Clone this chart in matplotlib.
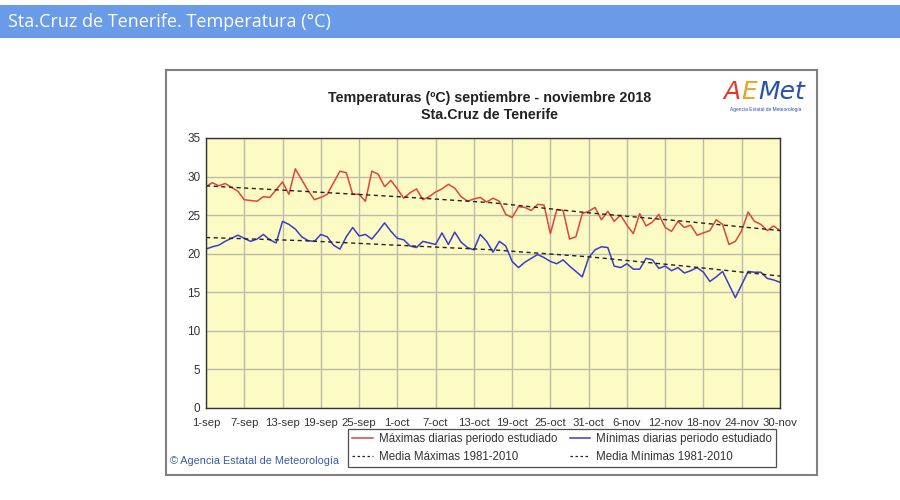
import numpy as np
import matplotlib
matplotlib.use('Agg')
import matplotlib.pyplot as plt
from matplotlib.patches import Rectangle
from matplotlib.lines import Line2D

plt.rcParams['font.family'] = ['Liberation Sans', 'DejaVu Sans']

# daily values, 1-sep .. 30-nov 2018
tmax = [28.7, 29.2, 28.8, 29.1, 28.6, 28.1, 27.0, 26.9, 26.8, 27.4,
        27.3, 28.3, 29.3, 27.7, 31.0, 29.6, 28.2, 27.0, 27.3, 27.7,
        29.2, 30.7, 30.5, 27.7, 27.7, 26.8, 30.7, 30.3, 28.7, 29.5,
        28.4, 27.2, 27.9, 28.4, 27.0, 27.4, 28.0, 28.4, 29.0, 28.5,
        27.4, 26.8, 27.1, 27.3, 26.7, 27.2, 26.8, 25.1, 24.7, 26.1,
        26.0, 25.6, 26.4, 26.3, 22.6, 25.7, 25.6, 21.9, 22.2, 25.2,
        25.5, 26.0, 24.4, 25.5, 24.2, 25.0, 23.7, 22.6, 25.2, 23.6,
        24.1, 25.1, 23.4, 22.9, 24.2, 23.4, 23.7, 22.4, 22.7, 23.0,
        24.4, 23.8, 21.2, 21.6, 23.0, 25.4, 24.2, 23.8, 23.0, 23.6, 23.0]
tmin = [20.6, 20.9, 21.1, 21.6, 22.0, 22.4, 22.0, 21.6, 21.9, 22.5,
        21.8, 21.4, 24.2, 23.8, 23.2, 22.2, 21.7, 21.6, 22.5, 22.2,
        21.1, 20.6, 22.2, 23.4, 22.3, 22.5, 21.9, 22.9, 24.0, 22.9,
        22.0, 21.8, 21.0, 20.8, 21.6, 21.4, 21.2, 22.7, 21.2, 22.8,
        21.5, 20.8, 20.5, 22.5, 21.6, 20.2, 21.6, 21.0, 19.0, 18.2,
        18.9, 19.4, 19.9, 19.5, 19.0, 18.7, 19.2, 18.4, 17.7, 17.0,
        19.5, 20.5, 20.9, 20.8, 18.4, 18.2, 18.7, 18.0, 18.0, 19.4,
        19.2, 18.1, 18.4, 17.8, 18.2, 17.5, 17.8, 18.2, 17.6, 16.4,
        17.0, 17.7, 16.0, 14.3, 16.0, 17.7, 17.6, 17.6, 16.8, 16.6, 16.3]

# 1981-2010 normals read at a few days
norm_days = [0, 15, 30, 45, 60, 75, 90]
norm_max = [28.8, 28.1, 27.4, 26.6, 25.3, 24.2, 23.0]
norm_min = [22.1, 21.7, 21.1, 20.5, 19.6, 18.4, 17.1]

tick_labels = ['1-sep', '7-sep', '13-sep', '19-sep', '25-sep', '1-oct', '7-oct',
               '13-oct', '19-oct', '25-oct', '31-oct', '6-nov', '12-nov',
               '18-nov', '24-nov', '30-nov']

W, H = 900, 500
fig = plt.figure(figsize=(9, 5), dpi=100)
fig.patch.set_facecolor('white')

# page header bar
fig.patches.append(Rectangle((0, 1 - 38 / H), 1, 33 / H, transform=fig.transFigure,
                             facecolor='#6a9be8', edgecolor='none', zorder=-2))
fig.text(8 / W, 1 - 22 / H, 'Sta.Cruz de Tenerife. Temperatura (°C)', color='white',
         fontsize=13, family=['Open Sans', 'DejaVu Sans'], va='center', ha='left')

# chart panel
fig.patches.append(Rectangle((166 / W, 1 - 475 / H), 651 / W, 405 / H, transform=fig.transFigure,
                             facecolor='white', edgecolor='#808080', linewidth=1.5, zorder=-2))

fig.text(490 / W, 1 - 98 / H, 'Temperaturas (ºC) septiembre - noviembre 2018',
         ha='center', va='center', fontsize=10.3, fontweight='bold', color='#222222')
fig.text(490 / W, 1 - 115 / H, 'Sta.Cruz de Tenerife',
         ha='center', va='center', fontsize=10.3, fontweight='bold', color='#222222')

# logo, letters placed one after another
renderer = fig.canvas.get_renderer()
x_px = 723
for part, col in [('A', '#e03a2a'), ('E', '#f0a020'), ('Met', '#2a4fb0')]:
    t = fig.text(x_px / W, 1 - 92 / H, part, color=col, fontsize=18, style='italic',
                 family=['DejaVu Sans'], va='center', ha='left')
    x_px += t.get_window_extent(renderer).width + 1
fig.text(766 / W, 1 - 110 / H, 'Agencia Estatal de Meteorología', color='#2a4fb0',
         fontsize=3.5, va='center', ha='center')

ax = fig.add_axes([206 / W, 1 - 408 / H, 574 / W, 270 / H])
ax.set_facecolor('#fdfbc4')
days = np.arange(len(tmax))
ax.plot(days, tmax, color='#e0443a', linewidth=1.1)
ax.plot(days, tmin, color='#3a3ccc', linewidth=1.1)
ax.plot(norm_days, norm_max, color='#222222', linestyle=(0, (3, 2.5)), linewidth=1.0)
ax.plot(norm_days, norm_min, color='#222222', linestyle=(0, (3, 2.5)), linewidth=1.0)

ax.set_xlim(0, 90)
ax.set_ylim(0, 35)
ax.set_xticks(np.arange(0, 91, 6))
ax.set_xticklabels(tick_labels)
ax.set_yticks(np.arange(0, 36, 5))
ax.tick_params(axis='x', length=0, labelsize=8.2, colors='#333333', pad=7)
ax.tick_params(axis='y', length=0, labelsize=8.5, colors='#333333', pad=4)
ax.grid(True, color='#bcbcac', linewidth=1.0)
ax.set_axisbelow(True)
for s in ax.spines.values():
    s.set_color('#333333')
    s.set_linewidth(1.0)

handles = [Line2D([], [], color='#e0443a', linewidth=1.1),
           Line2D([], [], color='#222222', linestyle=(0, (2, 2)), linewidth=0.9),
           Line2D([], [], color='#3a3ccc', linewidth=1.1),
           Line2D([], [], color='#222222', linestyle=(0, (2, 2)), linewidth=0.9)]
labels = ['Máximas diarias periodo estudiado', 'Media Máximas 1981-2010',
          'Mínimas diarias periodo estudiado', 'Media Mínimas 1981-2010']
leg = fig.legend(handles, labels, ncol=2, loc='upper left',
                 bbox_to_anchor=(348 / W, 1 - 429 / H), bbox_transform=fig.transFigure,
                 frameon=True, fancybox=False, edgecolor='#222222', fontsize=8.3,
                 handlelength=1.8, handletextpad=0.5, columnspacing=1.1,
                 labelspacing=0.55, borderpad=0.35, borderaxespad=0)
leg.get_frame().set_linewidth(0.9)
for t in leg.get_texts():
    t.set_color('#333333')

fig.text(170 / W, 1 - 461 / H, '© Agencia Estatal de Meteorología', color='#3a5aa8',
         fontsize=7.8, va='center', ha='left')

fig.savefig('out.png', dpi=100)
